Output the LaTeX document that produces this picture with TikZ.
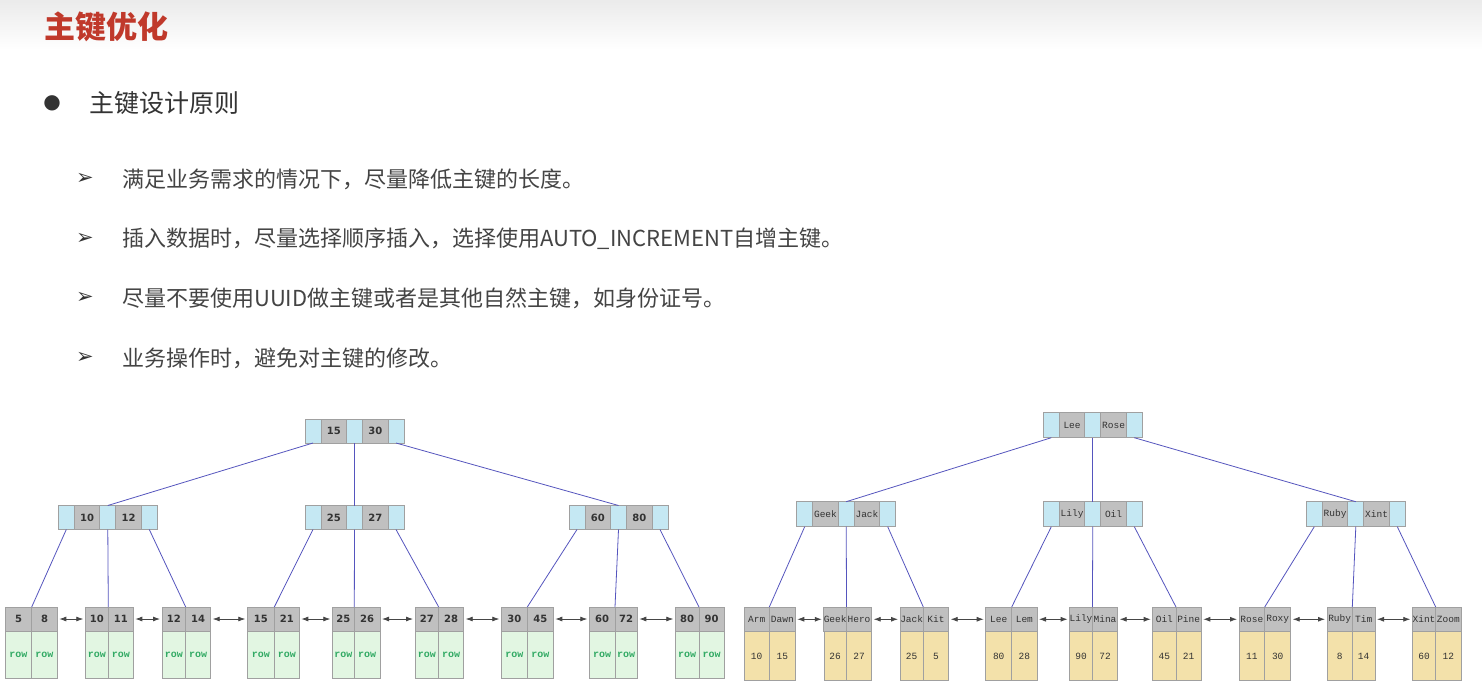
\documentclass[tikz,border=0pt]{standalone}
\usepackage{fontspec}
\newfontfamily\cjk{Noto Sans CJK SC}
\newfontfamily\dejavu{DejaVu Sans}
\newfontfamily\monof{Liberation Mono}
\usetikzlibrary{arrows.meta}
\definecolor{titlered}{RGB}{192,57,43}
\definecolor{txt}{RGB}{51,51,51}
\definecolor{bodygray}{RGB}{68,68,68}
\definecolor{ptrblue}{RGB}{197,232,243}
\definecolor{keygray}{RGB}{192,192,192}
\definecolor{cellborder}{RGB}{160,160,160}
\definecolor{rowgreen}{RGB}{226,246,226}
\definecolor{rowtext}{RGB}{50,170,100}
\definecolor{rowtan}{RGB}{243,225,170}
\definecolor{edgeblue}{RGB}{85,85,190}
\definecolor{arrowgray}{RGB}{70,70,70}
\tikzset{
  cell/.style={draw=cellborder, line width=0.8pt, inner sep=0pt, outer sep=0pt},
  ptrc/.style={cell, fill=ptrblue},
  keyc/.style={cell, fill=keygray},
  greenrow/.style={cell, fill=rowgreen, text=rowtext, font=\monof\bfseries\fontsize{10}{10}\selectfont},
  tanrow/.style={cell, fill=rowtan, text=txt, font=\monof\fontsize{9.5}{10}\selectfont},
  numkey/.style={font=\dejavu\bfseries\fontsize{10}{10}\selectfont, text=txt},
  namekey/.style={font=\monof\fontsize{9.5}{10}\selectfont, text=txt},
  tedge/.style={draw=edgeblue, line width=0.8pt},
  larr/.style={draw=arrowgray, line width=0.8pt, {Latex[length=7pt,width=5pt]}-{Latex[length=7pt,width=5pt]}, shorten <=2pt, shorten >=2pt},
  bodytext/.style={anchor=west, inner sep=0pt, text=bodygray, font=\cjk\fontsize{22}{22}\selectfont},
  arrbullet/.style={inner sep=0pt, text=txt, font=\dejavu\fontsize{21}{21}\selectfont},
}
% internal node: name, x left, y top, height, key1, key2
\newcommand{\BInode}[6]{%
  \node[ptrc, minimum width=16pt, minimum height=#4pt] (#1-p0) at ({#2+8},{#3+#4/2}) {};
  \node[keyc, inkey, minimum width=25.5pt, minimum height=#4pt] (#1-k1) at ({#2+28.75},{#3+#4/2}) {#5};
  \node[ptrc, minimum width=16pt, minimum height=#4pt] (#1-p1) at ({#2+49.5},{#3+#4/2}) {};
  \node[keyc, inkey, minimum width=25.5pt, minimum height=#4pt] (#1-k2) at ({#2+70.25},{#3+#4/2}) {#6};
  \node[ptrc, minimum width=16pt, minimum height=#4pt] (#1-p2) at ({#2+91},{#3+#4/2}) {};
}
% leaf: name, x left, x divider, x right, key1, key2, val1, val2
\newcommand{\BLeaf}[8]{%
  \node[keyc, leafkey, minimum width={(#3-#2)*1pt}, minimum height={(\LyM-\LyT)*1pt}] (#1-k1) at ({(#2+#3)/2},{(\LyT+\LyM)/2}) {#5};
  \node[keyc, leafkey, minimum width={(#4-#3)*1pt}, minimum height={(\LyM-\LyT)*1pt}] (#1-k2) at ({(#3+#4)/2},{(\LyT+\LyM)/2}) {#6};
  \node[leafrow, minimum width={(#3-#2)*1pt}, minimum height={(\LyB-\LyM)*1pt}] (#1-r1) at ({(#2+#3)/2},{(\LyM+\LyB)/2}) {#7};
  \node[leafrow, minimum width={(#4-#3)*1pt}, minimum height={(\LyB-\LyM)*1pt}] (#1-r2) at ({(#3+#4)/2},{(\LyM+\LyB)/2}) {#8};
}
\begin{document}
\begin{tikzpicture}[x=1pt, y=-1pt]
\fill[white] (0,0) rectangle (1482,691);
\useasboundingbox (0,0) rectangle (1482,691);
\shade[top color=black!8, bottom color=white] (0,0) rectangle (1482,50);

% ---- texts ----
\node[anchor=west, inner sep=0pt, text=titlered, font=\cjk\bfseries\fontsize{31}{31}\selectfont] (title) at (44,27) {主键优化};
\node[inner sep=0pt, text=txt, font=\dejavu\fontsize{20}{20}\selectfont] (dot) at (52,103) {●};
\node[anchor=west, inner sep=0pt, text=txt, font=\cjk\fontsize{25}{25}\selectfont] (head) at (89,103) {主键设计原则};
\node[arrbullet] (b1) at (85,179) {➢};
\node[bodytext] (t1) at (122,179) {满足业务需求的情况下，尽量降低主键的长度。};
\node[arrbullet] (b2) at (85,239) {➢};
\node[bodytext] (t2) at (122,239) {插入数据时，尽量选择顺序插入，选择使用AUTO\_INCREMENT自增主键。};
\node[arrbullet] (b3) at (85,298) {➢};
\node[bodytext] (t3) at (122,298) {尽量不要使用UUID做主键或者是其他自然主键，如身份证号。};
\node[arrbullet] (b4) at (85,358) {➢};
\node[bodytext] (t4) at (122,358) {业务操作时，避免对主键的修改。};

% ---- left tree ----
\begin{scope}[inkey/.style=numkey, leafkey/.style=numkey, leafrow/.style=greenrow]
\def\LyT{607}\def\LyM{631}\def\LyB{678}
\BInode{LR}{305}{419}{24}{15}{30}
\BInode{LA}{58.3}{505.5}{24}{10}{12}
\BInode{LB}{305}{505.5}{24}{25}{27}
\BInode{LC}{569}{505.5}{24}{60}{80}
\BLeaf{L1}{5.3}{31.7}{57.3}{5}{8}{row}{row}
\BLeaf{L2}{85.3}{108.3}{133.3}{10}{11}{row}{row}
\BLeaf{L3}{162}{185.7}{210.7}{12}{14}{row}{row}
\BLeaf{L4}{247.3}{274.3}{299.3}{15}{21}{row}{row}
\BLeaf{L5}{332.3}{354.3}{380}{25}{26}{row}{row}
\BLeaf{L6}{415}{438.7}{463.7}{27}{28}{row}{row}
\BLeaf{L7}{501.3}{527.3}{553.3}{30}{45}{row}{row}
\BLeaf{L8}{589.3}{615}{637.3}{60}{72}{row}{row}
\BLeaf{L9}{675.3}{699}{724}{80}{90}{row}{row}
\end{scope}
\draw[tedge] (LR-p0.south) -- (LA-p1.north);
\draw[tedge] (LR-p1.south) -- (LB-p1.north);
\draw[tedge] (LR-p2.south) -- (LC-p1.north);
\draw[tedge] (LA-p0.south) -- (L1-k1.north east);
\draw[tedge] (LA-p1.south) -- (L2-k1.north east);
\draw[tedge] (LA-p2.south) -- (L3-k1.north east);
\draw[tedge] (LB-p0.south) -- (L4-k1.north east);
\draw[tedge] (LB-p1.south) -- (L5-k1.north east);
\draw[tedge] (LB-p2.south) -- (L6-k1.north east);
\draw[tedge] (LC-p0.south) -- (L7-k1.north east);
\draw[tedge] (LC-p1.south) -- (L8-k1.north east);
\draw[tedge] (LC-p2.south) -- (L9-k1.north east);
\draw[larr] (L1-k2.east) -- (L2-k1.west);
\draw[larr] (L2-k2.east) -- (L3-k1.west);
\draw[larr] (L3-k2.east) -- (L4-k1.west);
\draw[larr] (L4-k2.east) -- (L5-k1.west);
\draw[larr] (L5-k2.east) -- (L6-k1.west);
\draw[larr] (L6-k2.east) -- (L7-k1.west);
\draw[larr] (L7-k2.east) -- (L8-k1.west);
\draw[larr] (L8-k2.east) -- (L9-k1.west);

% ---- right tree ----
\begin{scope}[inkey/.style=namekey, leafkey/.style=namekey, leafrow/.style=tanrow]
\def\LyT{607}\def\LyM{631.5}\def\LyB{680.5}
\BInode{RR}{1043.3}{412.7}{25}{Lee}{Rose}
\BInode{RA}{796.7}{501.7}{25}{Geek}{Jack}
\BInode{RB}{1043.3}{501.7}{25}{Lily}{Oil}
\BInode{RC}{1306.3}{501.7}{25}{Ruby}{Xint}
\BLeaf{RLA}{744}{769.3}{795.3}{Arm}{Dawn}{10}{15}
\BLeaf{RLB}{824}{846.3}{871.7}{Geek}{Hero}{26}{27}
\BLeaf{RLC}{900}{923.3}{948.7}{Jack}{Kit}{25}{5}
\BLeaf{RLD}{985.7}{1011.7}{1037}{Lee}{Lem}{80}{28}
\BLeaf{RLE}{1069.7}{1092.3}{1117.7}{Lily}{Mina}{90}{72}
\BLeaf{RLF}{1152.7}{1176}{1201.3}{Oil}{Pine}{45}{21}
\BLeaf{RLG}{1239}{1264.7}{1290.7}{Rose}{Roxy}{11}{30}
\BLeaf{RLH}{1327}{1352.3}{1375}{Ruby}{Tim}{8}{14}
\BLeaf{RLI}{1412.3}{1435.7}{1461}{Xint}{Zoom}{60}{12}
\end{scope}
\draw[tedge] (RR-p0.south) -- (RA-p1.north);
\draw[tedge] (RR-p1.south) -- (RB-p1.north);
\draw[tedge] (RR-p2.south) -- (RC-p1.north);
\draw[tedge] (RA-p0.south) -- (RLA-k1.north east);
\draw[tedge] (RA-p1.south) -- (RLB-k1.north east);
\draw[tedge] (RA-p2.south) -- (RLC-k1.north east);
\draw[tedge] (RB-p0.south) -- (RLD-k1.north east);
\draw[tedge] (RB-p1.south) -- (RLE-k1.north east);
\draw[tedge] (RB-p2.south) -- (RLF-k1.north east);
\draw[tedge] (RC-p0.south) -- (RLG-k1.north east);
\draw[tedge] (RC-p1.south) -- (RLH-k1.north east);
\draw[tedge] (RC-p2.south) -- (RLI-k1.north east);
\draw[larr] (RLA-k2.east) -- (RLB-k1.west);
\draw[larr] (RLB-k2.east) -- (RLC-k1.west);
\draw[larr] (RLC-k2.east) -- (RLD-k1.west);
\draw[larr] (RLD-k2.east) -- (RLE-k1.west);
\draw[larr] (RLE-k2.east) -- (RLF-k1.west);
\draw[larr] (RLF-k2.east) -- (RLG-k1.west);
\draw[larr] (RLG-k2.east) -- (RLH-k1.west);
\draw[larr] (RLH-k2.east) -- (RLI-k1.west);
\end{tikzpicture}
\end{document}
